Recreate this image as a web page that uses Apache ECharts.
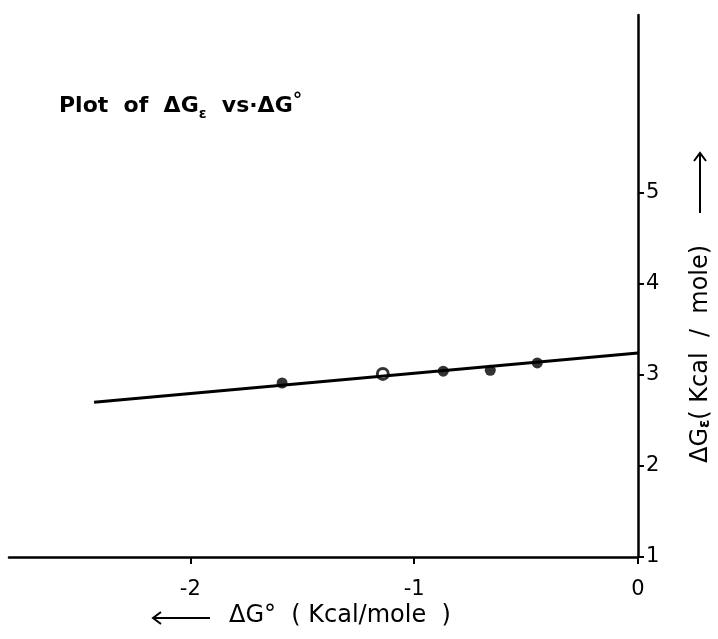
<!DOCTYPE html>
<html>
<head>
<meta charset="utf-8">
<script src="https://cdn.jsdelivr.net/npm/echarts@6/dist/echarts.min.js"></script>
<style>html,body{margin:0;padding:0;background:#fff}#chart{width:718px;height:639px}</style>
</head>
<body>
<div id="chart"></div>
<script>
// values
const xTicks = [-2, -1, 0];
const yTicks = [1, 2, 3, 4, 5];
const fitLine = [[-2.43, 2.70], [0, 3.24]];
const pointX = [-1.59, -1.14, -0.87, -0.66, -0.45];
const pointY = [2.91, 3.01, 3.04, 3.05, 3.13];
const hollow = [false, true, false, false, false];

const font = 'DejaVu Sans';
const arrowStyle = { stroke: '#000', lineWidth: 2 };
const chart = echarts.init(document.getElementById('chart'));
chart.setOption({
    animation: false,
    backgroundColor: '#fff',
    title: {
        text: 'Plot  of  ΔG{s|ε}  vs·ΔG{p|°}', left: 54, top: 87,
        textStyle: { fontFamily: font, fontSize: 22, fontWeight: 'bold', color: '#000',
            rich: { s: { fontSize: 14, fontFamily: font, fontWeight: 'bold', verticalAlign: 'bottom', padding: [10, 0, 0, 0] },
                    p: { fontSize: 19, fontFamily: font, fontWeight: 'bold', verticalAlign: 'top', padding: [0, 0, 10, 0] } } }
    },
    grid: { left: 9, right: 80, top: 15, bottom: 82 },
    xAxis: {
        type: 'value', min: -2.81, max: 0,
        axisLine: { lineStyle: { color: '#000', width: 2.5 } },
        axisTick: { show: true, length: 7, customValues: xTicks, lineStyle: { color: '#000', width: 2 } },
        axisLabel: { customValues: xTicks, color: '#000', fontFamily: font, fontSize: 21, margin: 22 },
        splitLine: { show: false }
    },
    yAxis: {
        type: 'value', min: 1, max: 6.95, position: 'right',
        axisLine: { show: true, lineStyle: { color: '#000', width: 2.5 } },
        axisTick: { show: true, inside: false, length: 6, customValues: yTicks, lineStyle: { color: '#000', width: 2 } },
        axisLabel: { customValues: yTicks, color: '#000', fontFamily: font, fontSize: 21, margin: 8 },
        splitLine: { show: false }
    },
    graphic: [
        {
            type: 'text', left: 229, top: 604,
            style: { text: 'ΔG°  ( Kcal/mole  )', font: '24px ' + font, fill: '#000' }
        },
        { type: 'line', shape: { x1: 153, y1: 618, x2: 210, y2: 618 }, style: arrowStyle },
        { type: 'polyline', shape: { points: [[161, 612], [153, 618], [161, 624]] }, style: arrowStyle },
        {
            type: 'text', x: 688, y: 463, rotation: Math.PI / 2,
            style: {
                text: 'ΔG{s|ε}( Kcal  /  mole)', font: '24px ' + font, fill: '#000',
                rich: { s: { fontSize: 15, fontFamily: font, fontWeight: 'bold', verticalAlign: 'bottom', padding: [10, 0, 0, 0] } }
            }
        },
        { type: 'line', shape: { x1: 700, y1: 213, x2: 700, y2: 153 }, style: arrowStyle },
        { type: 'polyline', shape: { points: [[694, 161], [700, 153], [706, 161]] }, style: arrowStyle }
    ],
    series: [
        {
            type: 'line', data: fitLine, symbol: 'none',
            lineStyle: { color: '#000', width: 3 }
        },
        {
            type: 'scatter', symbolSize: 11,
            data: pointX.map((x, i) => ({
                value: [x, pointY[i]],
                itemStyle: hollow[i]
                    ? { color: '#fff', borderColor: '#000', borderWidth: 3 }
                    : { color: '#000' }
            }))
        }
    ]
});
</script>
</body>
</html>
